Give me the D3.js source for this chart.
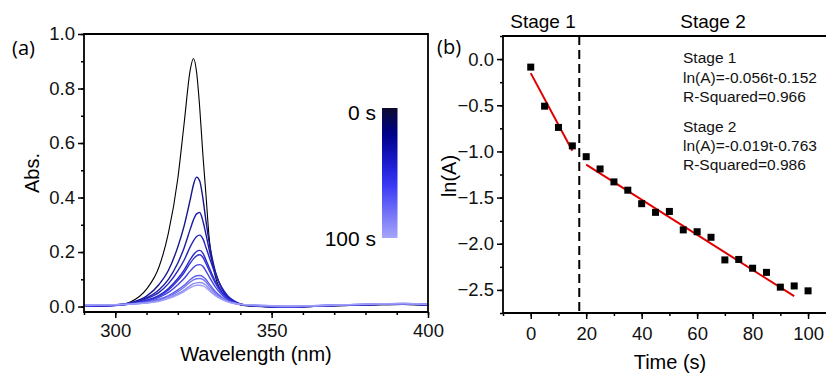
<!DOCTYPE html>
<html>
<head>
<meta charset="utf-8">
<script src="https://cdn.jsdelivr.net/npm/d3@7"></script>
<style>
  body { margin: 0; background: #fff; }
  svg { display: block; font-family: "Liberation Sans", Arial, sans-serif; }
</style>
</head>
<body>
<svg id="chart" width="826" height="373"></svg>
<script>
// ---- data ----
const wavelengths = [290, 300, 305, 310, 314, 317, 320, 322, 324, 325, 326, 327, 328, 329, 330, 332, 334, 336, 338, 340, 345, 355, 365, 375, 385, 392, 400];
const spectraTimes = [0, 10, 20, 30, 40, 50, 60, 70, 80, 90, 100];
const abs0   = [0.002, 0.004, 0.018, 0.064, 0.146, 0.27, 0.47, 0.67, 0.87, 0.91, 0.86, 0.73, 0.56, 0.41, 0.255, 0.11, 0.055, 0.027, 0.014, 0.006, 0.0, -0.003, 0.001, 0.004, 0.007, 0.008, 0.005];
const abs10  = [0.003, 0.005, 0.014, 0.038, 0.081, 0.133, 0.219, 0.295, 0.394, 0.447, 0.475, 0.461, 0.399, 0.314, 0.238, 0.128, 0.067, 0.033, 0.017, 0.008, 0.002, -0.002, 0.002, 0.005, 0.007, 0.008, 0.006];
const abs20  = [0.002, 0.005, 0.012, 0.032, 0.062, 0.1, 0.16, 0.215, 0.285, 0.318, 0.34, 0.345, 0.315, 0.265, 0.21, 0.125, 0.068, 0.036, 0.019, 0.01, 0.002, -0.002, 0.002, 0.005, 0.008, 0.009, 0.006];
const abs30  = [0.002, 0.006, 0.013, 0.029, 0.052, 0.084, 0.131, 0.17, 0.22, 0.241, 0.257, 0.262, 0.249, 0.217, 0.183, 0.118, 0.071, 0.039, 0.021, 0.01, 0.003, -0.002, 0.003, 0.005, 0.008, 0.009, 0.006];
const abs40  = [0.002, 0.005, 0.01, 0.023, 0.041, 0.066, 0.103, 0.134, 0.173, 0.19, 0.202, 0.206, 0.196, 0.171, 0.144, 0.093, 0.056, 0.031, 0.016, 0.008, 0.002, -0.002, 0.002, 0.006, 0.008, 0.01, 0.007];
const abs50  = [0.002, 0.004, 0.01, 0.021, 0.038, 0.061, 0.095, 0.124, 0.16, 0.175, 0.186, 0.19, 0.181, 0.158, 0.133, 0.086, 0.051, 0.029, 0.015, 0.008, 0.002, -0.001, 0.003, 0.006, 0.009, 0.01, 0.007];
const abs60  = [0.003, 0.006, 0.011, 0.019, 0.034, 0.052, 0.08, 0.103, 0.131, 0.143, 0.152, 0.154, 0.148, 0.13, 0.11, 0.072, 0.044, 0.025, 0.014, 0.008, 0.003, -0.001, 0.003, 0.006, 0.009, 0.01, 0.007];
const abs70  = [0.004, 0.006, 0.01, 0.017, 0.027, 0.04, 0.061, 0.078, 0.099, 0.108, 0.113, 0.114, 0.11, 0.099, 0.084, 0.055, 0.035, 0.021, 0.013, 0.008, 0.004, 0.0, 0.003, 0.006, 0.009, 0.01, 0.007];
const abs80  = [0.004, 0.006, 0.009, 0.015, 0.024, 0.037, 0.055, 0.071, 0.09, 0.098, 0.102, 0.103, 0.1, 0.09, 0.076, 0.05, 0.032, 0.019, 0.012, 0.008, 0.004, 0.0, 0.003, 0.007, 0.009, 0.011, 0.008];
const abs90  = [0.005, 0.007, 0.009, 0.014, 0.021, 0.032, 0.047, 0.06, 0.077, 0.084, 0.087, 0.088, 0.086, 0.078, 0.066, 0.044, 0.029, 0.018, 0.012, 0.008, 0.005, 0.001, 0.004, 0.007, 0.01, 0.011, 0.008];
const abs100 = [0.006, 0.007, 0.009, 0.013, 0.019, 0.029, 0.043, 0.055, 0.069, 0.075, 0.078, 0.078, 0.076, 0.069, 0.059, 0.04, 0.026, 0.017, 0.011, 0.008, 0.006, 0.002, 0.004, 0.007, 0.01, 0.011, 0.008];
const spectra = [abs0, abs10, abs20, abs30, abs40, abs50, abs60, abs70, abs80, abs90, abs100];

const kineticTimes = [0, 5, 10, 15, 20, 25, 30, 35, 40, 45, 50, 55, 60, 65, 70, 75, 80, 85, 90, 95, 100];
const lnA = [-0.087, -0.51, -0.74, -0.94, -1.057, -1.19, -1.33, -1.42, -1.566, -1.66, -1.65, -1.85, -1.87, -1.93, -2.175, -2.17, -2.265, -2.31, -2.47, -2.457, -2.51];
const fit1 = [[0, -0.152], [15, -0.992]];
const fit2 = [[20, -1.143], [95, -2.568]];
const stageSplit = 17.5;

const wlTicks = [300, 350, 400];
const absTicks = [0, 0.2, 0.4, 0.6, 0.8, 1.0];
const timeTicks = [0, 20, 40, 60, 80, 100];
const lnTicks = [0, -0.5, -1, -1.5, -2, -2.5];

const curveColors = ["#000000", "#14148c", "#1c1ca6", "#2323bd", "#2a2acc", "#3030d8", "#4343e0", "#6060e8", "#7474ee", "#8a8af2", "#9e9ef8"];

const svg = d3.select("#chart");

// ---------- panel (a) ----------
const xA = d3.scaleLinear().domain([290, 400]).range([84, 428]);
const yA = d3.scaleLinear().domain([-0.02, 1.0]).range([312, 34]);

const gA = svg.append("g");

// curves
const lineA = d3.line()
  .x((d, i) => xA(wavelengths[i]))
  .y(d => yA(d))
  .curve(d3.curveMonotoneX);

gA.selectAll("path.spec")
  .data(spectra)
  .enter().append("path")
  .attr("class", "spec")
  .attr("d", d => lineA(d))
  .attr("fill", "none")
  .attr("stroke", (d, i) => curveColors[i])
  .attr("stroke-width", (d, i) => i === 0 ? 1.1 : 1.4)

// axes
function styleAxis(g) {
  g.select(".domain").remove();
  g.selectAll(".tick line").attr("stroke", "#000").attr("stroke-width", 1.5);
  g.selectAll(".tick text").attr("fill", "#111");
}

gA.append("g")
  .attr("transform", "translate(0,312)")
  .call(d3.axisBottom(xA).tickValues(d3.range(290, 401, 10)).tickSize(3).tickFormat(""))
  .call(styleAxis);
gA.append("g")
  .attr("transform", "translate(0,312)")
  .call(d3.axisBottom(xA).tickValues(wlTicks).tickSize(6).tickPadding(6).tickFormat(d3.format("d")))
  .call(styleAxis)
  .selectAll("text").style("font-size", "18.5px");

gA.append("g")
  .attr("transform", "translate(84,0)")
  .call(d3.axisLeft(yA).tickValues(d3.range(0, 1.01, 0.1)).tickSize(3).tickFormat(""))
  .call(styleAxis);
gA.append("g")
  .attr("transform", "translate(84,0)")
  .call(d3.axisLeft(yA).tickValues(absTicks).tickSize(6).tickPadding(3).tickFormat(d3.format(".1f")))
  .call(styleAxis)
  .selectAll("text").style("font-size", "18.5px");

// frame
gA.append("path")
  .attr("d", `M${xA(290)},${yA(1.0)}V${yA(-0.02)}H${xA(400)}V${yA(1.0)}Z`)
  .attr("fill", "none").attr("stroke", "#000").attr("stroke-width", 1.8);

// labels
svg.append("text").attr("x", 12).attr("y", 55)
  .style("font-family", "'Open Sans', sans-serif").style("font-size", "20px").text("(a)");
svg.append("text")
  .attr("transform", "translate(39,173) rotate(-90)")
  .attr("text-anchor", "middle").style("font-size", "20px").text("Abs.");
svg.append("text").attr("x", 256).attr("y", 361)
  .attr("text-anchor", "middle").style("font-size", "20px").text("Wavelength (nm)");

// colour bar
const defs = svg.append("defs");
const grad = defs.append("linearGradient").attr("id", "cbar")
  .attr("x1", 0).attr("y1", 0).attr("x2", 0).attr("y2", 1);
[["0", "#0c0c2e"], ["0.2", "#00008a"], ["0.45", "#1f1fd6"], ["0.6", "#3a3af5"], ["1", "#a6a6fb"]]
  .forEach(s => grad.append("stop").attr("offset", s[0]).attr("stop-color", s[1]));
svg.append("rect").attr("x", 382).attr("y", 108).attr("width", 15.5).attr("height", 130)
  .attr("fill", "url(#cbar)");
svg.append("text").attr("x", 376).attr("y", 120).attr("text-anchor", "end")
  .style("font-size", "21px").text("0 s");
svg.append("text").attr("x", 376).attr("y", 246).attr("text-anchor", "end")
  .style("font-size", "21px").text("100 s");

// ---------- panel (b) ----------
const xB = d3.scaleLinear().domain([-10, 110]).range([503, 835.8]);
const yB = d3.scaleLinear().domain([-2.75, 0.25]).range([313, 36]);
const gB = svg.append("g");

gB.append("g")
  .attr("transform", "translate(0,313)")
  .call(d3.axisBottom(xB).tickValues(d3.range(-10, 111, 10)).tickSize(3).tickFormat(""))
  .call(styleAxis);
gB.append("g")
  .attr("transform", "translate(0,313)")
  .call(d3.axisBottom(xB).tickValues(timeTicks).tickSize(6).tickPadding(8).tickFormat(d3.format("d")))
  .call(styleAxis)
  .selectAll("text").style("font-size", "18.5px");

gB.append("g")
  .attr("transform", "translate(503,0)")
  .call(d3.axisLeft(yB).tickValues(d3.range(-2.75, 0.26, 0.25)).tickSize(3).tickFormat(""))
  .call(styleAxis);
gB.append("g")
  .attr("transform", "translate(503,0)")
  .call(d3.axisLeft(yB).tickValues(lnTicks).tickSize(6).tickPadding(3).tickFormat(d3.format(".1f")))
  .call(styleAxis)
  .selectAll("text").style("font-size", "18.5px");

gB.append("path")
  .attr("d", `M${xB(110)},${yB(0.25)}H${xB(-10)}V${yB(-2.75)}H${xB(110)}`)
  .attr("fill", "none").attr("stroke", "#000").attr("stroke-width", 1.8);

// stage divider
gB.append("line")
  .attr("x1", xB(stageSplit)).attr("x2", xB(stageSplit))
  .attr("y1", yB(0.25)).attr("y2", yB(-2.75))
  .attr("stroke", "#000").attr("stroke-width", 2)
  .attr("stroke-dasharray", "9,5");

// fit lines
const lineB = d3.line().x(d => xB(d[0])).y(d => yB(d[1]));
gB.selectAll("path.fit")
  .data([fit1, fit2])
  .enter().append("path")
  .attr("class", "fit")
  .attr("d", d => lineB(d))
  .attr("stroke", "#e00000").attr("stroke-width", 2).attr("fill", "none");

// points
gB.selectAll("rect.pt")
  .data(kineticTimes)
  .enter().append("rect")
  .attr("class", "pt")
  .attr("x", (d) => xB(d) - 3.5)
  .attr("y", (d, i) => yB(lnA[i]) - 3.5)
  .attr("width", 7).attr("height", 7)
  .attr("fill", "#000");

// labels
svg.append("text").attr("x", 437).attr("y", 54)
  .style("font-family", "'Open Sans', sans-serif").style("font-size", "20px").text("(b)");
svg.append("text")
  .attr("transform", "translate(456,176) rotate(-90)")
  .attr("text-anchor", "middle").style("font-size", "20px").text("ln(A)");
svg.append("text").attr("x", 670).attr("y", 369)
  .attr("text-anchor", "middle").style("font-size", "20px").text("Time (s)");
svg.append("text").attr("x", 543).attr("y", 28)
  .attr("text-anchor", "middle").style("font-size", "19px").text("Stage 1");
svg.append("text").attr("x", 713).attr("y", 28)
  .attr("text-anchor", "middle").style("font-size", "19px").text("Stage 2");

const notes = [
  ["Stage 1", 63], ["ln(A)=-0.056t-0.152", 82.5], ["R-Squared=0.966", 101.5],
  ["Stage 2", 131.5], ["ln(A)=-0.019t-0.763", 151], ["R-Squared=0.986", 170]
];
svg.selectAll("text.note")
  .data(notes)
  .enter().append("text")
  .attr("class", "note")
  .attr("x", 683).attr("y", d => d[1])
  .style("font-size", "15.5px").attr("fill", "#111")
  .text(d => d[0]);
</script>
</body>
</html>
